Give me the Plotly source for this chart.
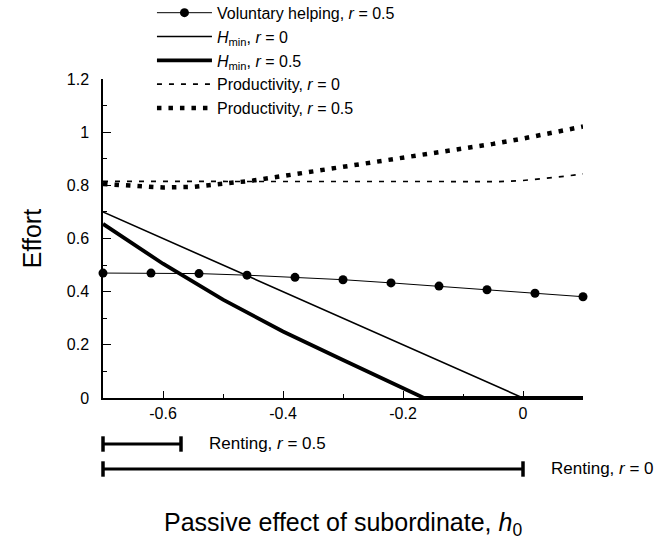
import plotly.graph_objects as go

# ---------------- data ----------------
help_x = [-0.7, -0.62, -0.54, -0.46, -0.38, -0.30, -0.22, -0.14, -0.06, 0.02, 0.1]
help_y = [0.470, 0.470, 0.468, 0.462, 0.454, 0.445, 0.433, 0.421, 0.407, 0.394, 0.381]

hmin0_x = [-0.7, 0.0, 0.1]
hmin0_y = [0.70, 0.0, 0.0]

hmin5_x = [-0.7, -0.6, -0.5, -0.4, -0.3, -0.2, -0.165, 0.1]
hmin5_y = [0.655, 0.505, 0.370, 0.250, 0.143, 0.036, 0.0, 0.0]

prod0_x = [-0.7, -0.6, -0.5, -0.4, -0.3, -0.2, -0.1, -0.04, 0.0, 0.04, 0.07, 0.1]
prod0_y = [0.815, 0.815, 0.815, 0.815, 0.815, 0.815, 0.815, 0.814, 0.818, 0.826, 0.834, 0.843]

prod5_x = [-0.7, -0.65, -0.6, -0.55, -0.5, -0.45, -0.4, -0.35, -0.3, -0.25, -0.2,
           -0.15, -0.1, -0.05, 0.0, 0.05, 0.1]
prod5_y = [0.805, 0.797, 0.792, 0.794, 0.804, 0.818, 0.835, 0.852, 0.868, 0.884, 0.901,
           0.918, 0.937, 0.956, 0.976, 0.998, 1.021]

rent_labels = ["Renting, <i>r</i> = 0.5", "Renting, <i>r</i> = 0"]
rent_rows = ["r05", "r0"]
rent_start = [-0.7, -0.7]
rent_end = [-0.57, 0.0]

x_tickvals = [-0.6, -0.4, -0.2, 0.0]
x_ticktext = ["-0.6", "-0.4", "-0.2", "0"]
y_tickvals = [0, 0.2, 0.4, 0.6, 0.8, 1.0, 1.2]
y_ticktext = ["0", "0.2", "0.4", "0.6", "0.8", "1", "1.2"]

FONT = "Liberation Sans, Arial, Helvetica, sans-serif"

fig = go.Figure()

fig.add_trace(go.Scatter(
    x=help_x, y=help_y, mode="lines+markers", name="Voluntary helping, <i>r</i> = 0.5",
    line=dict(color="black", width=1), marker=dict(color="black", size=9),
    cliponaxis=False))
fig.add_trace(go.Scatter(
    x=hmin0_x, y=hmin0_y, mode="lines", name="<i>H</i><sub>min</sub>, <i>r</i> = 0",
    line=dict(color="black", width=1.6), cliponaxis=False))
fig.add_trace(go.Scatter(
    x=hmin5_x, y=hmin5_y, mode="lines", name="<i>H</i><sub>min</sub>, <i>r</i> = 0.5",
    line=dict(color="black", width=3.8), cliponaxis=False))
fig.add_trace(go.Scatter(
    x=prod0_x, y=prod0_y, mode="lines", name="Productivity, <i>r</i> = 0",
    line=dict(color="black", width=1.6, dash="5px,7px")))
fig.add_trace(go.Scatter(
    x=prod5_x, y=prod5_y, mode="lines", name="Productivity, <i>r</i> = 0.5",
    line=dict(color="black", width=4.5, dash="4.5px,7px")))

# renting bars in lower strip
for lab, row, s, e in zip(rent_labels, rent_rows, rent_start, rent_end):
    fig.add_trace(go.Scatter(
        x=[s, e], y=[row, row], mode="lines+markers", xaxis="x2", yaxis="y2",
        line=dict(color="black", width=3.2),
        marker=dict(symbol="line-ns", size=11, line=dict(color="black", width=3.5)),
        showlegend=False, cliponaxis=False))
    fig.add_annotation(x=e, y=row, xref="x2", yref="y2", text=lab, showarrow=False,
                       xanchor="left", yanchor="middle", xshift=26,
                       font=dict(family=FONT, size=17, color="black"))

fig.add_annotation(x=0.5, y=-0.11, xref="paper", yref="paper",
                   text="Passive effect of subordinate, <i>h</i><sub>0</sub>",
                   showarrow=False, xanchor="center", yanchor="middle",
                   font=dict(family=FONT, size=25, color="black"))

fig.update_layout(
    width=654, height=539,
    margin=dict(l=103, r=71, t=79, b=59, autoexpand=False),
    paper_bgcolor="white", plot_bgcolor="white",
    font=dict(family=FONT, color="black"),
    showlegend=True,
    legend=dict(x=0.102, y=1.2075, xanchor="left", yanchor="top",
                font=dict(family=FONT, size=16, color="black"),
                bgcolor="rgba(0,0,0,0)", traceorder="normal",
                itemwidth=55),
    xaxis=dict(range=[-0.7, 0.1], domain=[0, 1], anchor="y",
               tickvals=x_tickvals, ticktext=x_ticktext,
               ticks="inside", ticklen=7, tickwidth=1.2, tickcolor="black",
               minor=dict(ticks="inside", ticklen=4, dtick=0.1, tick0=0, tickcolor="black", tickwidth=1.2),
               showline=True, linecolor="black", linewidth=1.5,
               showgrid=False, zeroline=False,
               tickfont=dict(family=FONT, size=16, color="black"),
               ticklabelstandoff=0),
    yaxis=dict(range=[0, 1.2], domain=[0.2045, 1], anchor="x",
               tickvals=y_tickvals, ticktext=y_ticktext,
               ticks="inside", ticklen=8, tickwidth=1.2, tickcolor="black",
               minor=dict(ticks="inside", ticklen=4, dtick=0.1, tick0=0, tickcolor="black", tickwidth=1.2),
               showline=True, linecolor="black", linewidth=1.5,
               showgrid=False, zeroline=False,
               tickfont=dict(family=FONT, size=16, color="black"),
               ticklabelstandoff=9,
               title=dict(text="Effort", font=dict(family=FONT, size=25, color="black"), standoff=18)),
    xaxis2=dict(range=[-0.7, 0.1], domain=[0, 1], anchor="y2", matches="x",
                visible=False),
    yaxis2=dict(domain=[0, 0.15], anchor="x2", type="category",
                categoryorder="array", categoryarray=["r0", "r05"],
                range=[-0.44, 1.966], visible=False),
)

fig.write_html("out.html")
